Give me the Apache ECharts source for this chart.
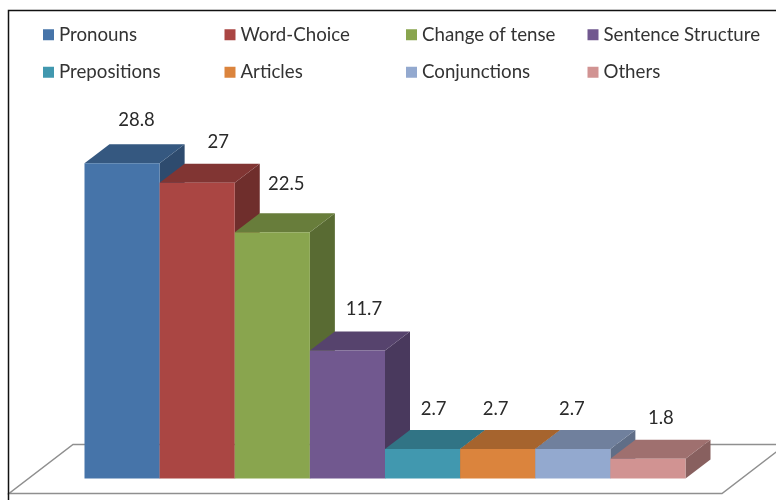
<!DOCTYPE html>
<html>
<head>
<meta charset="utf-8">
<style>html,body{margin:0;padding:0;background:#fff}#c{width:776px;height:500px}</style>
<script src="https://cdn.jsdelivr.net/npm/echarts@6/dist/echarts.min.js"></script>
</head>
<body>
<div id="c"></div>
<script>
const categories = ['Pronouns','Word-Choice','Change of tense','Sentence Structure','Prepositions','Articles','Conjunctions','Others'];
const values = [28.8,27,22.5,11.7,2.7,2.7,2.7,1.8];
const colors = ['#4674A9','#AA4643','#89A54E','#71588F','#4198AF','#DB843D','#93A9CF','#D19392'];
const labelNudge = [[14.5,-43],[21,-41],[14,-48],[16.5,-41],[11,-40],[-2,-40],[-1,-40],[13,-41]];
const FONT = 'Lato';
const DX = 25, DY = 19;

function shade(hex, k){
  const n = parseInt(hex.slice(1),16);
  return 'rgb('+[n>>16,(n>>8)&255,n&255].map(v=>Math.round(v*k)).join(',')+')';
}
const chart = echarts.init(document.getElementById('c'), null, {renderer:'canvas'});
function renderBar(i){
  return function(params, api){
    const p = api.coord([api.value(0), api.value(1)]);
    const base = api.coord([api.value(0), 0]);
    const w = api.size([1,0])[0];
    const x0 = p[0]-w/2, x1 = p[0]+w/2, yT = p[1], yB = base[1];
    const c = colors[i];
    return {type:'group', children:[
      {type:'polygon', shape:{points:[[x1,yT],[x1+DX,yT-DY],[x1+DX,yB-DY],[x1,yB]]}, style:{fill:shade(c,0.65)}},
      {type:'polygon', shape:{points:[[x0,yT],[x0+DX,yT-DY],[x1+DX,yT-DY],[x1,yT]]}, style:{fill:shade(c,0.76)}},
      {type:'rect', shape:{x:x0,y:yT,width:w,height:yB-yT}, style:{fill:c}},
      {type:'text', x:p[0]+labelNudge[i][0], y:yT+labelNudge[i][1], style:{text:String(api.value(1)), fill:'#2a2a2a', font:'18.5px '+FONT, align:'center', verticalAlign:'middle'}}
    ]};
  };
}
chart.setOption({
  animation:false,
  backgroundColor:'#fff',
  grid:{left:84.5, width:601, top:150, height:328.5},
  xAxis:{type:'category', data:categories, show:false},
  yAxis:{type:'value', min:0, max:30, show:false},
  legend:{
    left:43, top:16, width:740, itemGap:0, itemWidth:11, itemHeight:11, icon:'rect',
    padding:0,
    textStyle:{fontFamily:FONT, fontSize:18.7, color:'#333', width:165.5, lineHeight:37.5, overflow:'none', padding:[0,0,0,0]},
    data:categories
  },
  graphic:[
    {type:'polygon', z:0, silent:true, shape:{points:[[9,493.5],[722,493.5],[786,444.5],[73,444.5]]}, style:{fill:'#fff',stroke:'#8f8f8f',lineWidth:1.5}},
    {type:'polyline', z:0, silent:true, shape:{points:[[8.5,500],[8.5,10.5],[776,10.5]]}, style:{fill:'none',stroke:'#111',lineWidth:1.5}}
  ],
  series:categories.map((name,i)=>({
    type:'custom', name, z:2+i, clip:false,
    itemStyle:{color:colors[i]},
    encode:{x:0,y:1},
    renderItem:renderBar(i),
    data:[[i,values[i]]]
  }))
});
</script>
</body>
</html>
